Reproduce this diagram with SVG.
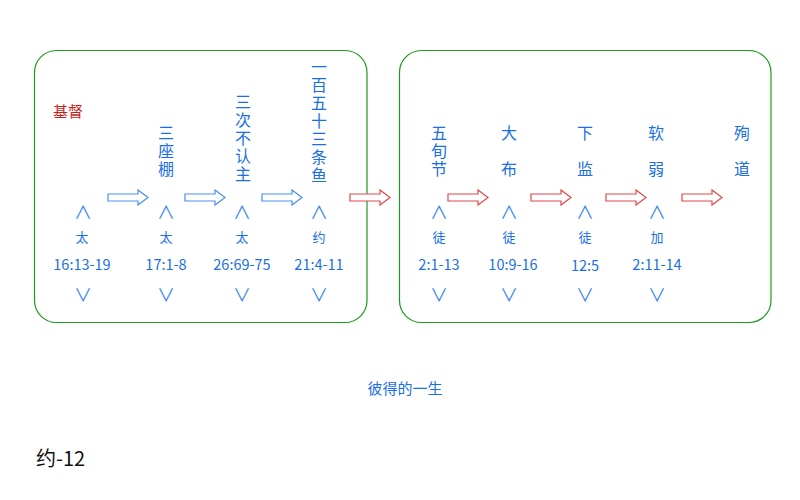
<svg xmlns="http://www.w3.org/2000/svg" width="800" height="500" viewBox="0 0 800 500">
<defs>
<style>
.box{fill:none;stroke:#1d9a1d;stroke-width:1.2}
.t{font-family:"Noto Sans CJK SC","Noto Sans",sans-serif;fill:#1a6fe6;text-anchor:middle}
.v{font-family:"Noto Sans CJK SC","Noto Sans",sans-serif;fill:#1a6fe6;font-size:16px;writing-mode:vertical-rl;text-anchor:start;letter-spacing:2px}
.w{letter-spacing:20px}
.s{font-size:13px}
.n{font-size:14.5px}
.c{font-size:18px;fill:#3a86f0}
.ba{fill:#fff;stroke:#4a8ff2;stroke-width:1.2}
.ra{fill:#fff;stroke:#de4a4a;stroke-width:1.2}
</style>
<path id="arr" d="M0,-3.5 h30 v-4 l10,7.5 -10,7.5 v-4 h-30 z"/>
</defs>
<rect width="800" height="500" fill="#fff"/>
<g id="box-left"><rect class="box" x="34.5" y="50.5" width="332.5" height="272" rx="22"/></g>
<g id="box-right"><rect class="box" x="399.5" y="50.5" width="371.5" height="272" rx="22"/></g>

<g id="connectors">
<use href="#arr" class="ba" x="108" y="197.5"/>
<use href="#arr" class="ba" x="185" y="197.5"/>
<use href="#arr" class="ba" x="262" y="197.5"/>
<use href="#arr" class="ra" x="350" y="197.5"/>
<use href="#arr" class="ra" x="448" y="197.5"/>
<use href="#arr" class="ra" x="531" y="197.5"/>
<use href="#arr" class="ra" x="606" y="197.5"/>
<use href="#arr" class="ra" x="682" y="197.5"/>
</g>

<g id="christ"><text class="t" x="68" y="117" style="font-size:15px;fill:#cc1f1f">基督</text></g>

<g id="col1">
<text class="t c" x="83" y="219">∧</text>
<text class="t s" x="82" y="242">太</text>
<text class="t n" x="82" y="270">16:13-19</text>
<text class="t c" x="83" y="302">∨</text>
</g>
<g id="col2">
<text class="v" x="166" y="125">三座棚</text>
<text class="t c" x="166" y="219">∧</text>
<text class="t s" x="166" y="242">太</text>
<text class="t n" x="166" y="270">17:1-8</text>
<text class="t c" x="166" y="302">∨</text>
</g>
<g id="col3">
<text class="v" x="243" y="94">三次不认主</text>
<text class="t c" x="242" y="219">∧</text>
<text class="t s" x="242" y="242">太</text>
<text class="t n" x="242" y="270">26:69-75</text>
<text class="t c" x="242" y="302">∨</text>
</g>
<g id="col4">
<text class="v" x="319" y="59">一百五十三条鱼</text>
<text class="t c" x="319" y="219">∧</text>
<text class="t s" x="319" y="242">约</text>
<text class="t n" x="319" y="270">21:4-11</text>
<text class="t c" x="319" y="302">∨</text>
</g>
<g id="col5">
<text class="v" x="439" y="125">五旬节</text>
<text class="t c" x="439" y="219">∧</text>
<text class="t s" x="439" y="242">徒</text>
<text class="t n" x="439" y="270">2:1-13</text>
<text class="t c" x="439" y="302">∨</text>
</g>
<g id="col6">
<text class="v w" x="509" y="125">大布</text>
<text class="t c" x="509" y="219">∧</text>
<text class="t s" x="509" y="242">徒</text>
<text class="t n" x="513" y="270">10:9-16</text>
<text class="t c" x="509" y="302">∨</text>
</g>
<g id="col7">
<text class="v w" x="585" y="125">下监</text>
<text class="t c" x="585" y="219">∧</text>
<text class="t s" x="585" y="242">徒</text>
<text class="t n" x="585" y="271">12:5</text>
<text class="t c" x="585" y="302">∨</text>
</g>
<g id="col8">
<text class="v w" x="656" y="125">软弱</text>
<text class="t c" x="657" y="219">∧</text>
<text class="t s" x="657" y="242">加</text>
<text class="t n" x="657" y="270">2:11-14</text>
<text class="t c" x="657" y="302">∨</text>
</g>
<g id="col9">
<text class="v w" x="742" y="125">殉道</text>
</g>

<g id="caption"><text class="t" x="405" y="394" style="font-size:15px">彼得的一生</text></g>
<g id="label"><text x="36" y="466" style="font-family:'Noto Sans CJK SC','Noto Sans',sans-serif;font-size:20px;fill:#111">约-12</text></g>
</svg>
